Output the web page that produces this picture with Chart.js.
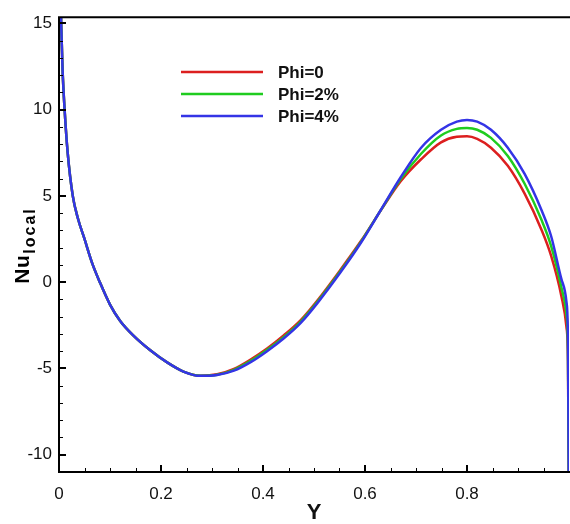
<!DOCTYPE html>
<html>
<head>
<meta charset="utf-8">
<script src="https://cdn.jsdelivr.net/npm/chart.js@4.4.1/dist/chart.umd.min.js"></script>
<style>
    html, body { margin: 0; padding: 0; background: #fff; }
    #wrap { width: 570px; height: 524px; }
</style>
</head>
<body>
<div id="wrap"><canvas id="nuChart" width="570" height="524"></canvas></div>
<script>
// Y position along the wall
const yPos = [0.002, 0.004, 0.007, 0.011, 0.017, 0.027, 0.037, 0.05, 0.065, 0.08,
    0.1, 0.12, 0.146, 0.179, 0.212, 0.244, 0.277, 0.31, 0.343, 0.375,
    0.408, 0.441, 0.474, 0.507, 0.552, 0.592, 0.631, 0.67, 0.71, 0.749,
    0.78, 0.8, 0.82, 0.847, 0.88, 0.913, 0.946, 0.965, 0.985, 0.995, 0.998, 1.0];

// local Nusselt number per nanoparticle fraction
const nuPhi0 = [17.5, 15.3, 12.3, 10.0, 7.5, 5.0, 3.7, 2.5, 1.1, 0,
    -1.3, -2.25, -3.1, -3.95, -4.65, -5.18, -5.42, -5.34, -5.03, -4.5,
    -3.85, -3.08, -2.2, -1.05, 0.72, 2.38, 4.16, 5.85, 7.12, 8.1,
    8.42, 8.45, 8.3, 7.79, 6.74, 5.13, 3.04, 1.52, -0.8, -2.6, -4.6, -14];
const nuPhi2 = [17.5, 15.3, 12.3, 10.0, 7.5, 5.0, 3.7, 2.5, 1.1, 0,
    -1.3, -2.25, -3.1, -3.95, -4.65, -5.18, -5.42, -5.36, -5.08, -4.58,
    -3.92, -3.17, -2.28, -1.13, 0.64, 2.33, 4.17, 5.97, 7.44, 8.5,
    8.88, 8.93, 8.83, 8.36, 7.31, 5.7, 3.61, 2.09, -0.3, -1.9, -4.0, -14];
const nuPhi4 = [17.5, 15.3, 12.3, 10.0, 7.5, 5.0, 3.7, 2.5, 1.1, 0,
    -1.3, -2.25, -3.1, -3.95, -4.65, -5.18, -5.43, -5.38, -5.13, -4.65,
    -4.0, -3.25, -2.36, -1.2, 0.57, 2.28, 4.18, 6.08, 7.79, 8.83,
    9.3, 9.4, 9.3, 8.83, 7.79, 6.27, 4.18, 2.66, 0.19, -1.14, -3.4, -14];

const seriesLabels = ['Phi=0', 'Phi=2%', 'Phi=4%'];
const seriesColors = ['#dc1f1f', '#1fcc1f', '#3434e6'];

const xTicks = [0, 0.2, 0.4, 0.6, 0.8];
const xTickLabels = ['0', '0.2', '0.4', '0.6', '0.8'];
const yTicks = [-10, -5, 0, 5, 10, 15];
const yTickLabels = ['-10', '-5', '0', '5', '10', '15'];

const FONT = '"Liberation Sans", Arial, sans-serif';

function toPoints(values) {
    return values.map((v, i) => ({ x: yPos[i], y: v }));
}

// axes box with inward major / minor ticks
const framePlugin = {
    id: 'frame',
    afterDraw(chart) {
        const { ctx, chartArea: a, scales: { x, y } } = chart;
        ctx.save();
        ctx.strokeStyle = '#000';

        ctx.lineWidth = 1;
        for (let v = 0.05; v < 1; v += 0.05) {
            const px = Math.round(x.getPixelForValue(v)) + 0.5;
            ctx.beginPath();
            ctx.moveTo(px, a.bottom);
            ctx.lineTo(px, a.bottom - 4);
            ctx.stroke();
        }
        for (let v = -11; v <= 15; v += 1) {
            const py = Math.round(y.getPixelForValue(v)) + 0.5;
            ctx.beginPath();
            ctx.moveTo(a.left, py);
            ctx.lineTo(a.left + 4, py);
            ctx.stroke();
        }

        ctx.lineWidth = 2;
        xTicks.forEach(v => {
            const px = Math.round(x.getPixelForValue(v));
            ctx.beginPath();
            ctx.moveTo(px, a.bottom);
            ctx.lineTo(px, a.bottom - 7);
            ctx.stroke();
        });
        yTicks.forEach(v => {
            const py = Math.round(y.getPixelForValue(v));
            ctx.beginPath();
            ctx.moveTo(a.left, py);
            ctx.lineTo(a.left + 7, py);
            ctx.stroke();
        });

        ctx.beginPath();
        ctx.moveTo(a.right + 2, a.top);
        ctx.lineTo(a.left, a.top);
        ctx.lineTo(a.left, a.bottom);
        ctx.lineTo(a.right + 2, a.bottom);
        ctx.stroke();

        // y axis title with subscript
        ctx.fillStyle = '#000';
        ctx.translate(29, 246);
        ctx.rotate(-Math.PI / 2);
        ctx.textBaseline = 'alphabetic';
        ctx.font = 'bold 21px ' + FONT;
        ctx.letterSpacing = '0.5px';
        const mainW = ctx.measureText('Nu').width;
        ctx.font = 'bold 16px ' + FONT;
        ctx.letterSpacing = '2px';
        const subW = ctx.measureText('local').width;
        const start = -(mainW + subW) / 2;
        ctx.font = 'bold 21px ' + FONT;
        ctx.letterSpacing = '0.5px';
        ctx.fillText('Nu', start, 0);
        ctx.font = 'bold 16px ' + FONT;
        ctx.letterSpacing = '2px';
        ctx.fillText('local', start + mainW + 1, 6);
        ctx.restore();
    }
};

// legend drawn inside the plot
const legendPlugin = {
    id: 'insideLegend',
    afterDatasetsDraw(chart) {
        const { ctx } = chart;
        ctx.save();
        ctx.font = 'bold 17px ' + FONT;
        ctx.textBaseline = 'middle';
        chart.data.datasets.forEach((ds, i) => {
            const ly = 72 + i * 22;
            ctx.strokeStyle = ds.borderColor;
            ctx.lineWidth = 2.5;
            ctx.beginPath();
            ctx.moveTo(181, ly);
            ctx.lineTo(263, ly);
            ctx.stroke();
            ctx.fillStyle = '#111';
            ctx.fillText(ds.label, 278, ly + 1);
        });
        ctx.restore();
    }
};

const datasets = [nuPhi0, nuPhi2, nuPhi4].map((vals, i) => ({
    label: seriesLabels[i],
    data: toPoints(vals),
    borderColor: seriesColors[i],
    backgroundColor: seriesColors[i],
    borderWidth: 2.5,
    pointRadius: 0,
    fill: false,
    cubicInterpolationMode: 'monotone',
    order: 2 - i
}));

new Chart(document.getElementById('nuChart'), {
    type: 'line',
    data: { datasets },
    options: {
        responsive: false,
        animation: false,
        devicePixelRatio: 1,
        layout: { padding: { top: 10, right: 1, left: 0, bottom: 0 } },
        plugins: {
            legend: { display: false },
            tooltip: { enabled: false }
        },
        scales: {
            x: {
                type: 'linear',
                min: 0,
                max: 1,
                grid: { display: false, drawTicks: false },
                border: { display: false },
                afterBuildTicks: s => { s.ticks = xTicks.map(v => ({ value: v })); },
                afterFit: s => { s.height = 52; },
                ticks: {
                    color: '#111',
                    padding: 12,
                    maxRotation: 0,
                    font: { family: FONT, size: 17 },
                    callback: v => xTickLabels[xTicks.indexOf(v)]
                },
                title: {
                    display: true,
                    text: 'Y',
                    color: '#111',
                    padding: { top: 0, bottom: 0 },
                    font: { family: FONT, size: 22, weight: 'bold', lineHeight: 1 }
                }
            },
            y: {
                type: 'linear',
                min: -11,
                max: 15.35,
                grid: { display: false, drawTicks: false },
                border: { display: false },
                afterBuildTicks: s => { s.ticks = yTicks.map(v => ({ value: v })); },
                afterFit: s => { s.width = 59; },
                ticks: {
                    color: '#111',
                    padding: 7,
                    font: { family: FONT, size: 17 },
                    callback: v => yTickLabels[yTicks.indexOf(v)]
                }
            }
        }
    },
    plugins: [framePlugin, legendPlugin]
});
</script>
</body>
</html>
